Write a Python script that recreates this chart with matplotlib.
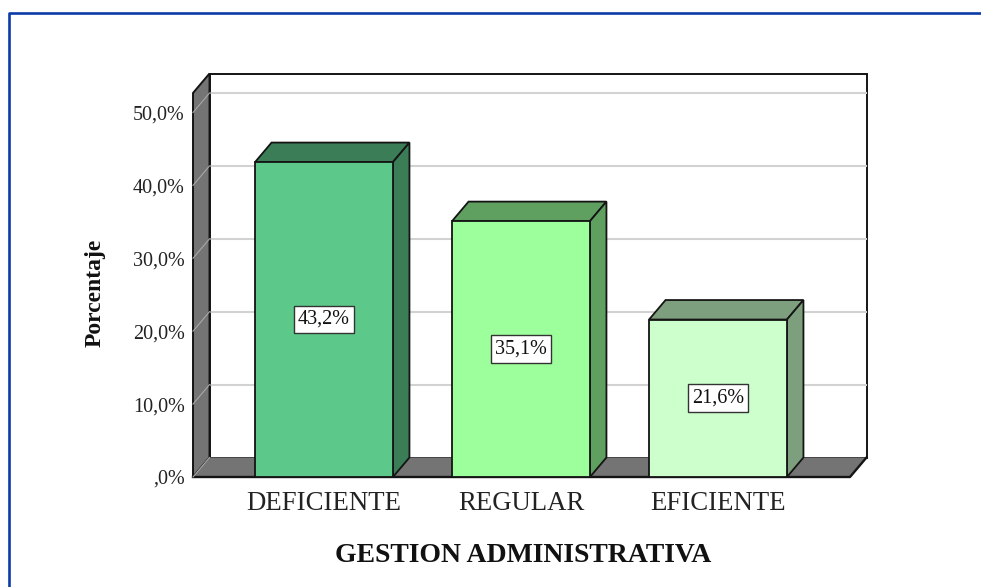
import matplotlib
matplotlib.use('Agg')
import matplotlib.pyplot as plt
from matplotlib.patches import Polygon, Rectangle

plt.rcParams['font.family'] = ['Liberation Serif', 'DejaVu Serif']

# Data
categorias = ['DEFICIENTE', 'REGULAR', 'EFICIENTE']
porcentajes = [43.2, 35.1, 21.6]
etiquetas = ['43,2%', '35,1%', '21,6%']
yticks = [0, 10, 20, 30, 40, 50]
ytick_labels = [',0%', '10,0%', '20,0%', '30,0%', '40,0%', '50,0%']
colores = ['#5CC98B', '#9CFF9C', '#CCFFCC']
colores_lado = ['#3A7D56', '#5F9F5F', '#7E9F7E']

W, H = 981, 587
fig = plt.figure(figsize=(W / 100, H / 100), dpi=100, facecolor='white')

# axes = front plane of the 3D box, in pixels of the reference
left, right, bottom, top = 193, 850, 477, 93
ax = fig.add_axes([left / W, 1 - bottom / H, (right - left) / W, (bottom - top) / H])
ax.set_xlim((left - 324) / 197, (right - 324) / 197)
ax.set_ylim(0, (bottom - top) / 7.29)
ax.patch.set_visible(False)
for s in ax.spines.values():
    s.set_visible(False)

# depth of the box in data units
dx = 16.5 / 197
dy = 19.5 / 7.29
x0, x1 = ax.get_xlim()
y1 = ax.get_ylim()[1]
ancho = 0.70
GRIS = '#747474'
NEGRO = '#141414'

# back wall
ax.add_patch(Rectangle((x0 + dx, dy), x1 - x0, y1, fc='white', ec=NEGRO, lw=1.4, zorder=1, clip_on=False))
# gridlines on back wall
for t in yticks[1:]:
    ax.plot([x0 + dx, x1 + dx], [t + dy, t + dy], color='#D2D2D2', lw=1.5, zorder=1.5, clip_on=False)
# left wall and floor
ax.add_patch(Polygon([(x0, 0), (x0 + dx, dy), (x0 + dx, y1 + dy), (x0, y1)], fc=GRIS, ec=NEGRO, lw=1.4, zorder=2, clip_on=False))
ax.add_patch(Polygon([(x0, 0), (x1, 0), (x1 + dx, dy), (x0 + dx, dy)], fc=GRIS, ec='none', zorder=2, clip_on=False))
ax.plot([x0, x1, x1 + dx], [0, 0, dy], color=NEGRO, lw=1.7, zorder=2.2, clip_on=False)
# gridlines running over the left wall
for t in yticks:
    ax.plot([x0, x0 + dx], [t, t + dy], color='#A8A8A8', lw=0.8, zorder=2.5, clip_on=False)

# bars
for i, v in enumerate(porcentajes):
    a, b = i - ancho / 2, i + ancho / 2
    ax.add_patch(Polygon([(a, v), (b, v), (b + dx, v + dy), (a + dx, v + dy)], fc=colores_lado[i], ec=NEGRO, lw=1.3, zorder=3, clip_on=False))
    ax.add_patch(Polygon([(b, 0), (b + dx, dy), (b + dx, v + dy), (b, v)], fc=colores_lado[i], ec=NEGRO, lw=1.3, zorder=3, clip_on=False))
    ax.add_patch(Rectangle((a, 0), ancho, v, fc=colores[i], ec=NEGRO, lw=1.3, zorder=4, clip_on=False))
    ax.text(i, v / 2, etiquetas[i], ha='center', va='center', fontsize=14.5, color='#111111', zorder=5,
            bbox=dict(boxstyle='square,pad=0.22', fc='white', ec='#333333', lw=1))

ax.set_yticks(yticks)
ax.set_yticklabels(ytick_labels, fontsize=14.5, color='#222222')
ax.set_xticks(range(len(categorias)))
ax.set_xticklabels(categorias, fontsize=19.3, color='#222222')
ax.tick_params(axis='both', length=0)
ax.tick_params(axis='y', pad=6)
ax.tick_params(axis='x', pad=10)

fig.text(523 / W, 1 - 555 / H, 'GESTION ADMINISTRATIVA', ha='center', va='center', fontsize=20, fontweight='bold', color='#111111')
fig.text(95 / W, 1 - 293 / H, 'Porcentaje', ha='center', va='center', rotation=90, fontsize=17, fontweight='bold', color='#111111')

# blue frame of the screenshot
fig.add_artist(plt.Line2D([9 / W, 9 / W, 1], [0, 1 - 12.5 / H, 1 - 12.5 / H], color='#0C3CA8', lw=1.9))

fig.savefig('out.png', dpi=100)
